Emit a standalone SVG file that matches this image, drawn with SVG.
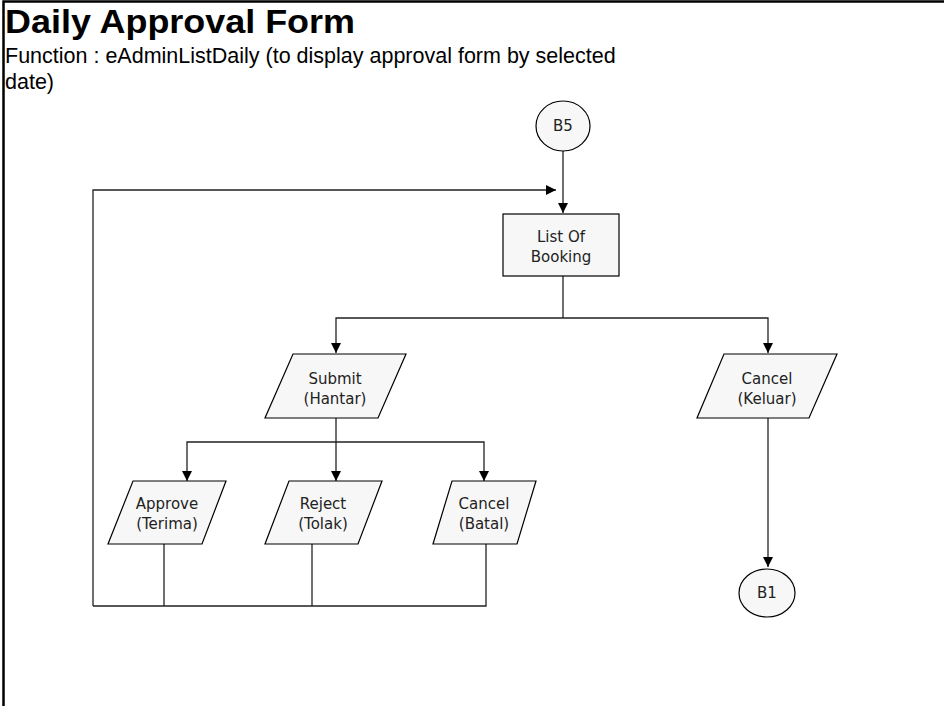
<svg xmlns="http://www.w3.org/2000/svg" width="944" height="706" viewBox="0 0 944 706">
<defs>
<marker id="ah" viewBox="0 0 10 10" refX="10" refY="5" markerWidth="10" markerHeight="10" markerUnits="userSpaceOnUse" orient="auto">
<path d="M0,0 L10,5 L0,10 Z" fill="#000"/>
</marker>
<style>
.shape{fill:#f7f7f7;stroke:#000;stroke-width:1.2}
.lbl{font-family:"DejaVu Sans",Verdana,sans-serif;font-size:15px;fill:#222;text-anchor:middle}
.conn{fill:none;stroke:#222;stroke-width:1.3}
.arr{marker-end:url(#ah)}
.title{font-family:"Liberation Sans",Arial,sans-serif;font-weight:bold;font-size:34px;fill:#000}
.sub{font-family:"Liberation Sans",Arial,sans-serif;font-size:21.5px;fill:#000}
</style>
</defs>
<rect width="944" height="706" fill="#fff"/>
<g id="frame">
<path d="M3.5,706 V1.5 H944" fill="none" stroke="#000" stroke-width="2.5"/>
</g>
<g id="header">
<text class="title" x="5" y="33" textLength="350" lengthAdjust="spacingAndGlyphs">Daily Approval Form</text>
<text class="sub" x="5" y="63">Function : eAdminListDaily (to display approval form by selected</text>
<text class="sub" x="5" y="89">date)</text>
</g>
<g id="connectors">
<path class="conn arr" d="M563,151 V213"/>
<path class="conn arr" d="M93,606 V190 H556"/>
<path class="conn" d="M563,276 V318"/>
<path class="conn arr" d="M563,318 H336 V353"/>
<path class="conn arr" d="M563,318 H768 V353"/>
<path class="conn" d="M336,418 V442"/>
<path class="conn arr" d="M336,442 H187 V481"/>
<path class="conn arr" d="M336,442 V481"/>
<path class="conn arr" d="M336,442 H484 V481"/>
<path class="conn" d="M164,544 V606"/>
<path class="conn" d="M312,544 V606"/>
<path class="conn" d="M486,544 V606 H93"/>
<path class="conn arr" d="M768,418 V567"/>
</g>
<g id="B5">
<ellipse class="shape" cx="563" cy="126" rx="27" ry="25"/>
<text class="lbl" x="563" y="131">B5</text>
</g>
<g id="listOfBooking">
<rect class="shape" x="503" y="214" width="116" height="62"/>
<text class="lbl" x="561" y="242">List Of</text>
<text class="lbl" x="561" y="262">Booking</text>
</g>
<g id="submit">
<polygon class="shape" points="293,354 406,354 378,418 265,418"/>
<text class="lbl" x="335" y="384">Submit</text>
<text class="lbl" x="335" y="404">(Hantar)</text>
</g>
<g id="cancelKeluar">
<polygon class="shape" points="724,354 837,354 809,418 697,418"/>
<text class="lbl" x="767" y="384">Cancel</text>
<text class="lbl" x="767" y="404">(Keluar)</text>
</g>
<g id="approve">
<polygon class="shape" points="133,481 226,481 202,544 108,544"/>
<text class="lbl" x="167" y="509">Approve</text>
<text class="lbl" x="167" y="529">(Terima)</text>
</g>
<g id="reject">
<polygon class="shape" points="289,481 382,481 358,544 265,544"/>
<text class="lbl" x="323" y="509">Reject</text>
<text class="lbl" x="323" y="529">(Tolak)</text>
</g>
<g id="cancelBatal">
<polygon class="shape" points="452,481 536,481 517,544 433,544"/>
<text class="lbl" x="484" y="509">Cancel</text>
<text class="lbl" x="484" y="529">(Batal)</text>
</g>
<g id="B1">
<ellipse class="shape" cx="767" cy="593" rx="28" ry="24"/>
<text class="lbl" x="767" y="598">B1</text>
</g>
</svg>
